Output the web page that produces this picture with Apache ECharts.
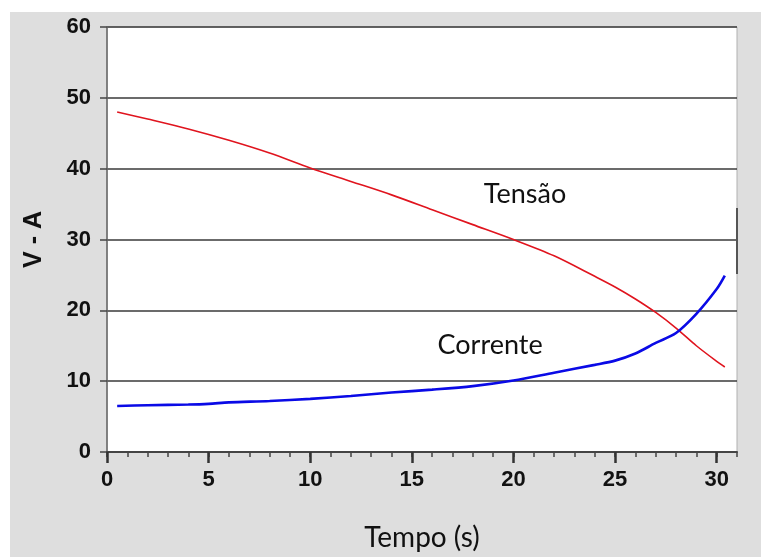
<!DOCTYPE html>
<html>
<head>
<meta charset="utf-8">
<script src="https://cdn.jsdelivr.net/npm/echarts@6/dist/echarts.min.js"></script>
<style>html,body{margin:0;padding:0;background:#fff}#c{width:761px;height:557px}</style>
</head>
<body>
<div id="c"></div>
<script>
// Tempo (s) vs values
var tensaoT = [0.5, 2, 4, 6, 8, 10, 12, 14, 16, 18, 20, 22, 24, 25, 26, 27, 28, 29, 30, 30.4];
var tensaoV = [48, 47, 45.6, 44, 42.2, 40.1, 38.2, 36.3, 34.2, 32.1, 30, 27.7, 24.8, 23.3, 21.6, 19.7, 17.5, 15.0, 12.8, 12];
var correnteT = [0.5, 2, 4, 5, 6, 8, 10, 12, 14, 16, 18, 20, 22, 24, 25, 26, 27, 28, 29, 30, 30.4];
var correnteV = [6.5, 6.6, 6.7, 6.8, 7.0, 7.2, 7.5, 7.9, 8.4, 8.8, 9.3, 10.1, 11.2, 12.3, 12.9, 13.9, 15.4, 16.8, 19.5, 23.0, 24.9];
var xTickLabels = [0, 5, 10, 15, 20, 25, 30];
var yTickLabels = [0, 10, 20, 30, 40, 50, 60];
var seriesNames = ['Tensão', 'Corrente'];
var labelPos = [[20.57, 36.4], [18.85, 15.1]];

function pairs(xs, ys) { return xs.map(function (x, i) { return [x, ys[i]]; }); }

var chart = echarts.init(document.getElementById('c'));
var labelFont = '"Lato", "Open Sans", sans-serif';
var numFont = '"Liberation Sans", Arial, sans-serif';
chart.setOption({
  backgroundColor: '#ffffff',
  animation: false,
  graphic: [
    { type: 'rect', z: -10, silent: true, shape: { x: 10, y: 12, width: 751, height: 545 }, style: { fill: '#dedede' } },
    { type: 'line', z: 100, silent: true, shape: { x1: 737, y1: 208, x2: 737, y2: 274 }, style: { stroke: '#555', lineWidth: 2 } }
  ],
  grid: { left: 107, top: 27, right: 24, bottom: 105, containLabel: false, outerBoundsMode: 'none', show: true, backgroundColor: '#ffffff', borderColor: '#b0b0b0', borderWidth: 1 },
  xAxis: [{
    type: 'value', min: 0, max: 31, interval: 1, position: 'bottom',
    name: 'Tempo (s)', nameLocation: 'middle', nameGap: 72,
    nameTextStyle: { fontFamily: labelFont, fontSize: 28, color: '#111' },
    axisLine: { show: true, lineStyle: { color: '#444', width: 2 } },
    axisTick: { show: true, length: 5, lineStyle: { color: '#444', width: 1.5 } },
    axisLabel: { customValues: xTickLabels, margin: 17, fontFamily: numFont, fontWeight: 'bold', fontSize: 22, color: '#111' },
    splitLine: { show: false }
  }, {
    type: 'value', min: 0, max: 31, interval: 5, position: 'bottom', offset: 0,
    axisLine: { show: false },
    axisTick: { show: true, customValues: xTickLabels, length: 11, lineStyle: { color: '#333', width: 2.5 } },
    axisLabel: { show: false },
    splitLine: { show: false }
  }],
  yAxis: {
    type: 'value', min: 0, max: 60, interval: 10,
    name: 'V - A', nameLocation: 'middle', nameGap: 60,
    nameTextStyle: { fontFamily: numFont, fontWeight: 'bold', fontSize: 25, color: '#111' },
    axisLine: { show: true, lineStyle: { color: '#666', width: 1.5 } },
    axisTick: { show: true, length: 7, lineStyle: { color: '#444', width: 1.5 } },
    axisLabel: { customValues: yTickLabels, margin: 16, fontFamily: numFont, fontWeight: 'bold', fontSize: 22, color: '#111' },
    splitLine: { show: true, lineStyle: { color: '#3a3a3a', width: 1.5 } }
  },
  series: [{
    name: seriesNames[0], type: 'line', data: pairs(tensaoT, tensaoV), showSymbol: false, smooth: 0.3,
    lineStyle: { color: '#e0141e', width: 1.6 }, z: 3,
    markPoint: { symbol: 'circle', symbolSize: 0, data: [{ coord: labelPos[0] }],
      label: { show: true, formatter: seriesNames[0], position: 'inside', fontFamily: labelFont, fontSize: 27, color: '#111' } }
  }, {
    name: seriesNames[1], type: 'line', data: pairs(correnteT, correnteV), showSymbol: false, smooth: 0.3,
    lineStyle: { color: '#0a0ae6', width: 2.6 }, z: 4,
    markPoint: { symbol: 'circle', symbolSize: 0, data: [{ coord: labelPos[1] }],
      label: { show: true, formatter: seriesNames[1], position: 'inside', fontFamily: labelFont, fontSize: 27, color: '#111' } }
  }]
});
</script>
</body>
</html>
